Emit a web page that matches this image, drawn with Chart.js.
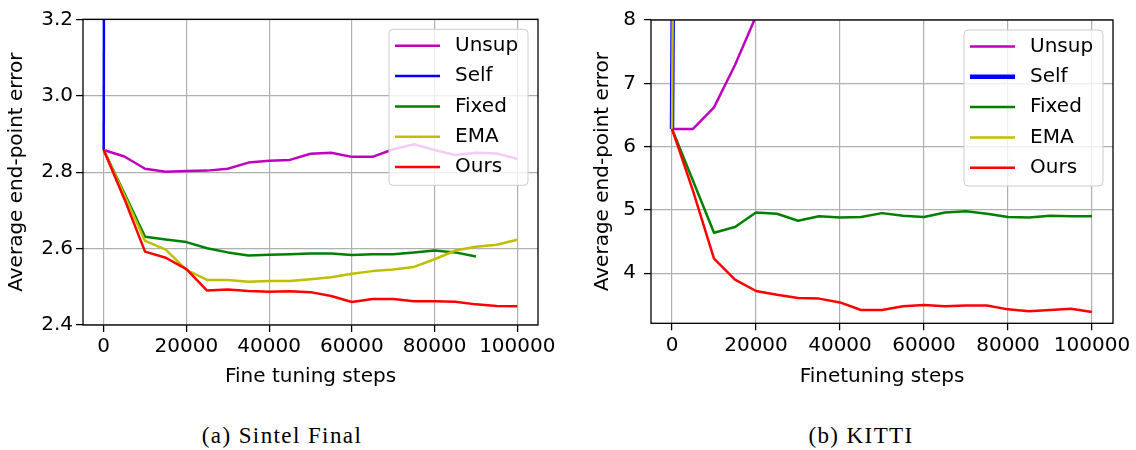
<!DOCTYPE html>
<html>
<head>
<meta charset="utf-8">
<script src="https://cdn.jsdelivr.net/npm/chart.js@4.4.1/dist/chart.umd.min.js"></script>
<style>
  body { margin: 0; background: #fff; width: 1136px; height: 450px; position: relative; overflow: hidden; }
  .panel { position: absolute; top: 0; width: 568px; height: 400px; }
  .caption { position: absolute; top: 423px; font-family: "Liberation Serif", serif; font-size: 23px; letter-spacing: 1.4px; color: #000; white-space: nowrap; transform: translateX(-50%); }
</style>
</head>
<body>
<div class="panel" style="left:0"><canvas id="sintel"></canvas></div>
<div class="panel" style="left:568px"><canvas id="kitti"></canvas></div>
<div class="caption" style="left:282px">(a) Sintel Final</div>
<div class="caption" style="left:861px">(b) KITTI</div>

<script>
// fine tuning steps (x values shared by every curve)
var steps = [0, 5000, 10000, 15000, 20000, 25000, 30000, 35000, 40000, 45000, 50000,
             55000, 60000, 65000, 70000, 75000, 80000, 85000, 90000, 95000, 100000];
var xTicks = [0, 20000, 40000, 60000, 80000, 100000];

// Sintel Final
var sintelUnsup = [2.858, 2.841, 2.809, 2.801, 2.803, 2.804, 2.809, 2.825, 2.830, 2.832, 2.848,
                   2.851, 2.840, 2.840, 2.860, 2.873, 2.858, 2.845, 2.851, 2.849, 2.835];
var sintelSelf = [2.858, 35];
var sintelFixed = [2.858, 2.745, 2.631, 2.624, 2.617, 2.601, 2.590, 2.582, 2.584, 2.585, 2.587,
                   2.587, 2.583, 2.585, 2.585, 2.590, 2.595, 2.590, 2.579];
var sintelEma = [2.858, 2.740, 2.620, 2.597, 2.544, 2.518, 2.518, 2.513, 2.515, 2.515, 2.520,
                 2.525, 2.534, 2.541, 2.545, 2.552, 2.572, 2.595, 2.605, 2.610, 2.623];
var sintelOurs = [2.858, 2.730, 2.592, 2.576, 2.546, 2.490, 2.493, 2.489, 2.487, 2.488, 2.486,
                  2.476, 2.460, 2.468, 2.468, 2.462, 2.462, 2.461, 2.454, 2.450, 2.449];
var sintelYTicks = [2.4, 2.6, 2.8, 3.0, 3.2];

// KITTI
var kittiUnsup = [6.28, 6.28, 6.62, 7.29, 8.06, 8.9];
var kittiSelf = [6.28, 60];
var kittiFixed = [6.28, 5.46, 4.64, 4.73, 4.96, 4.94, 4.83, 4.90, 4.88, 4.89, 4.95,
                  4.91, 4.89, 4.96, 4.98, 4.94, 4.89, 4.88, 4.91, 4.90, 4.90];
var kittiEma = [6.28, 60];
var kittiOurs = [6.28, 5.30, 4.23, 3.90, 3.72, 3.66, 3.61, 3.60, 3.54, 3.42, 3.42,
                 3.48, 3.50, 3.48, 3.49, 3.49, 3.43, 3.40, 3.42, 3.44, 3.39];
var kittiYTicks = [4, 5, 6, 7, 8];

var names = ['Unsup', 'Self', 'Fixed', 'EMA', 'Ours'];
var colors = ['#bf00bf', '#0000ff', '#008000', '#bfbf00', '#ff0000'];

Chart.defaults.font.family = 'DejaVu Sans';
Chart.defaults.font.size = 20;
Chart.defaults.color = '#000';

function pts(vals) {
  return vals.map(function (v, i) { return { x: steps[i], y: v }; });
}

// axes box + legend in the upper right corner
var frameLegend = {
  id: 'frameLegend',
  afterDraw: function (chart) {
    var ctx = chart.ctx, a = chart.chartArea;
    ctx.save();
    ctx.strokeStyle = '#000';
    ctx.lineWidth = 1.3;
    ctx.strokeRect(a.left, a.top, a.right - a.left, a.bottom - a.top);

    var w = 139, h = 156, r = 4;
    var x = a.right - 10 - w, y = a.top + 10;
    ctx.beginPath();
    ctx.moveTo(x + r, y);
    ctx.arcTo(x + w, y, x + w, y + h, r);
    ctx.arcTo(x + w, y + h, x, y + h, r);
    ctx.arcTo(x, y + h, x, y, r);
    ctx.arcTo(x, y, x + w, y, r);
    ctx.closePath();
    ctx.fillStyle = 'rgba(255,255,255,0.8)';
    ctx.fill();
    ctx.strokeStyle = '#cccccc';
    ctx.lineWidth = 1;
    ctx.stroke();

    ctx.font = '20px "DejaVu Sans"';
    ctx.textBaseline = 'middle';
    ctx.textAlign = 'left';
    chart.data.datasets.forEach(function (ds, i) {
      var cy = y + 16.5 + i * 30.3;
      ctx.strokeStyle = ds.borderColor;
      ctx.lineWidth = ds.borderWidth;
      ctx.beginPath();
      ctx.moveTo(x + 6, cy);
      ctx.lineTo(x + 51, cy);
      ctx.stroke();
      ctx.fillStyle = '#000';
      ctx.fillText(ds.label, x + 66, cy);
    });
    ctx.restore();
  }
};

function makeChart(id, series, widths, opts) {
  var datasets = series.map(function (vals, i) {
    return {
      label: names[i],
      data: pts(vals),
      borderColor: colors[i],
      borderWidth: widths[i],
      borderJoinStyle: 'round',
      pointRadius: 0,
      fill: false,
      tension: 0,
      order: series.length - 1 - i
    };
  });

  return new Chart(document.getElementById(id), {
    type: 'line',
    data: { datasets: datasets },
    plugins: [frameLegend],
    options: {
      responsive: true,
      maintainAspectRatio: false,
      animation: false,
      layout: { padding: opts.padding },
      plugins: { legend: { display: false }, tooltip: { enabled: false } },
      scales: {
        x: {
          type: 'linear',
          min: -5000,
          max: 105000,
          afterBuildTicks: function (s) { s.ticks = xTicks.map(function (v) { return { value: v }; }); },
          afterFit: function (s) { s.height = opts.xHeight; },
          border: { display: false },
          grid: { color: '#b0b0b0', lineWidth: 1.2, tickColor: '#000', tickLength: 7, tickWidth: 1.3 },
          ticks: { padding: 3, maxRotation: 0, autoSkip: false, callback: function (v) { return String(v); } },
          title: { display: true, text: opts.xTitle, padding: { top: 0, bottom: 11 } }
        },
        y: {
          type: 'linear',
          min: opts.yMin,
          max: opts.yMax,
          afterBuildTicks: function (s) { s.ticks = opts.yTicks.map(function (v) { return { value: v }; }); },
          afterFit: function (s) { s.width = 83; },
          border: { display: false },
          grid: { color: '#b0b0b0', lineWidth: 1.2, tickColor: '#000', tickLength: 7, tickWidth: 1.3 },
          ticks: { padding: opts.yPad, callback: opts.yFmt },
          title: { display: true, text: 'Average end-point error', padding: { top: opts.yTitlePad, bottom: 0 } }
        }
      }
    }
  });
}

makeChart('sintel',
  [sintelUnsup, sintelSelf, sintelFixed, sintelEma, sintelOurs],
  [2.5, 2.5, 2.5, 2.5, 2.5],
  {
    padding: { left: 0, right: 30, top: 19.3, bottom: 0 },
    xHeight: 75,
    xTitle: 'Fine tuning steps',
    yMin: 2.4, yMax: 3.2, yTicks: sintelYTicks,
    yPad: 3, yTitlePad: 5,
    yFmt: function (v) { return v.toFixed(1); }
  });

makeChart('kitti',
  [kittiUnsup, kittiSelf, kittiFixed, kittiEma, kittiOurs],
  [2.5, 4.5, 2.5, 2.5, 2.5],
  {
    padding: { left: 0, right: 23, top: 14.7, bottom: 0 },
    xHeight: 76.7,
    xTitle: 'Finetuning steps',
    yMin: 3.21, yMax: 8, yTicks: kittiYTicks,
    yPad: 8, yTitlePad: 23,
    yFmt: function (v) { return String(v); }
  });
</script>
</body>
</html>
